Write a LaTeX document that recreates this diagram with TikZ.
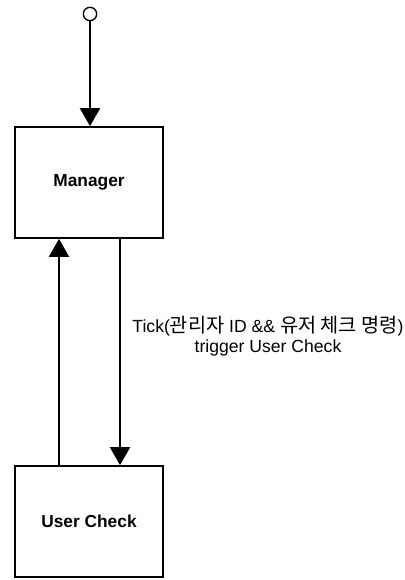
\documentclass[tikz,border=0pt]{standalone}
\usepackage{fontspec}
\setmainfont{Liberation Sans}
\newfontfamily\krfont[Scale=1.12]{Noto Sans CJK KR}
\usetikzlibrary{arrows.meta}

\begin{document}
\begin{tikzpicture}[x=0.75pt, y=-0.75pt,
  statebox/.style={rectangle, draw=black, line width=1.5pt, fill=white,
    minimum width=111pt, minimum height=83pt, align=center, inner sep=3pt,
    font=\bfseries\fontsize{13}{15}\selectfont},
  arr/.style={-{Triangle[width=15pt,length=13.5pt]}, black, line width=1.5pt}
]
\useasboundingbox (0,0) rectangle (404,580);

% start point and the two states
\node[circle, draw=black, line width=1pt, fill=white, minimum size=10pt, inner sep=0pt] (start) at (90,14) {};
\node[statebox] (manager) at (89,182.5) {Manager};
\node[statebox] (check) at (89,521.5) {User Check};

% transitions
\draw[arr] (start) -- (manager.north -| start);
\draw[arr] ([xshift=-22.5pt]check.north) -- ([xshift=-22.5pt]manager.south);
\draw[arr] ([xshift=23.25pt]manager.south) -- ([xshift=23.25pt]check.north);

% label of the tick transition
\node[align=center, font=\fontsize{13.2}{15}\selectfont] (ticklabel) at (268,336)
  {Tick({\krfont 관리자} ID \&\& {\krfont 유저 체크 명령})\\trigger User Check};
\end{tikzpicture}
\end{document}
